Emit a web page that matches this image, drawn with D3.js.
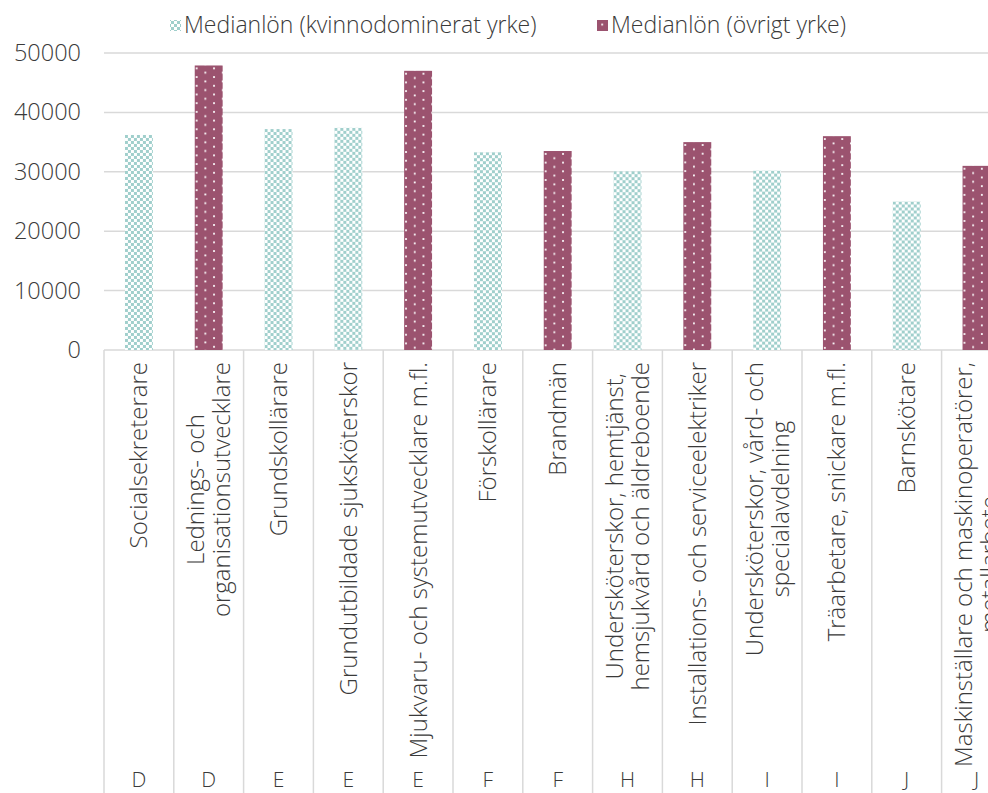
<!DOCTYPE html>
<meta charset="utf-8">
<style>
  body { margin: 0; background: #fff; }
  text { font-family: "Open Sans", "Lato", sans-serif; font-weight: 300; fill: #3a3a3a; }
</style>
<body>
<div id="chart"></div>
<script src="https://cdn.jsdelivr.net/npm/d3@7"></script>
<script>

// yrken, grupp och typ av yrke
var labels = [
  ["Socialsekreterare"],
  ["Lednings- och", "organisationsutvecklare"],
  ["Grundskollärare"],
  ["Grundutbildade sjuksköterskor"],
  ["Mjukvaru- och systemutvecklare m.fl."],
  ["Förskollärare"],
  ["Brandmän"],
  ["Undersköterskor, hemtjänst,", "hemsjukvård och äldreboende"],
  ["Installations- och serviceelektriker"],
  ["Undersköterskor, vård- och", "specialavdelning"],
  ["Träarbetare, snickare m.fl."],
  ["Barnskötare"],
  ["Maskinställare och maskinoperatörer,", "metallarbete"]
];
var groups = ["D", "D", "E", "E", "E", "F", "F", "H", "H", "I", "I", "J", "J"];
var types = ["k", "o", "k", "k", "o", "k", "o", "k", "o", "k", "o", "k", "o"];
var values = [36200, 47900, 37200, 37400, 47000, 33300, 33500, 30100, 35000, 30200, 36000, 25000, 31000];

var seriesNames = ["Medianlön (kvinnodominerat yrke)", "Medianlön (övrigt yrke)"];
var yTicks = [0, 10000, 20000, 30000, 40000, 50000];

var width = 988, height = 793;
var left = 104, top0 = 53, bottom0 = 350;

var svg = d3.select("#chart").append("svg")
    .attr("width", width)
    .attr("height", height);

var teal = "#a0cfcc", plum = "#9b536f", grid = "#d9d9d9";

var defs = svg.append("defs");
var pk = defs.append("pattern")
    .attr("id", "pat-k")
    .attr("patternUnits", "userSpaceOnUse")
    .attr("width", 6).attr("height", 6);
pk.append("rect").attr("width", 6).attr("height", 6).attr("fill", "#fff");
pk.append("rect").attr("width", 3).attr("height", 3).attr("fill", teal);
pk.append("rect").attr("x", 3).attr("y", 3).attr("width", 3).attr("height", 3).attr("fill", teal);

var po = defs.append("pattern")
    .attr("id", "pat-o")
    .attr("patternUnits", "userSpaceOnUse")
    .attr("width", 17.4).attr("height", 8.7);
po.append("rect").attr("width", 17.4).attr("height", 8.7).attr("fill", plum);
po.append("rect").attr("x", 1).attr("y", 2).attr("width", 1.8).attr("height", 1.8).attr("fill", "#fff");
po.append("rect").attr("x", 9.7).attr("y", 6.3).attr("width", 1.8).attr("height", 1.8).attr("fill", "#fff");

var x = d3.scaleBand()
    .domain(d3.range(labels.length))
    .range([left, left + 69.8 * labels.length])
    .padding(0);

var y = d3.scaleLinear()
    .domain([0, 50000])
    .range([bottom0, top0]);

// gridlines
svg.append("g")
  .selectAll("line")
  .data(yTicks)
  .enter().append("line")
    .attr("x1", left).attr("x2", width)
    .attr("y1", function(d) { return y(d); })
    .attr("y2", function(d) { return y(d); })
    .attr("stroke", grid)
    .attr("stroke-width", 1.5);

// y axis
var yAxis = svg.append("g")
    .attr("transform", "translate(" + (left - 23) + ",0)")
    .call(d3.axisLeft(y).tickValues(yTicks).tickSize(0).tickPadding(0).tickFormat(d3.format("d")));
yAxis.select(".domain").remove();
yAxis.selectAll("text")
    .style("font-size", "23.5px")
    .style("font-family", "\"Open Sans\", sans-serif")
    .attr("fill", "#3a3a3a");

// bars
var barW = x.bandwidth() * 0.4;
var bar = svg.append("g")
  .selectAll("g")
  .data(values)
  .enter().append("g")
    .attr("transform", function(d, i) {
      return "translate(" + (x(i) + (x.bandwidth() - barW) / 2) + "," + y(d) + ")";
    });
bar.append("rect")
    .attr("width", barW)
    .attr("height", function(d) { return y(0) - y(d); })
    .attr("fill", function(d, i) { return types[i] == "k" ? "url(#pat-k)" : "url(#pat-o)"; });

// category dividers
svg.append("g")
  .selectAll("line")
  .data(d3.range(labels.length + 1))
  .enter().append("line")
    .attr("x1", function(i) { return left + x.step() * i; })
    .attr("x2", function(i) { return left + x.step() * i; })
    .attr("y1", bottom0).attr("y2", height)
    .attr("stroke", grid)
    .attr("stroke-width", 1.5);

// rotated labels
var lineH = 26;
var lab = svg.append("g")
  .selectAll("g")
  .data(labels)
  .enter().append("g");
lab.each(function(lines, i) {
  var g = d3.select(this);
  var ts = g.selectAll("text")
    .data(lines)
    .enter().append("text")
      .attr("text-anchor", "middle")
      .attr("y", function(d, j) { return (j - (lines.length - 1) / 2) * lineH; })
      .attr("dy", "0.35em")
      .style("font-size", "24px")
      .text(function(d) { return d; });
  var maxLen = d3.max(ts.nodes(), function(n) { return n.getComputedTextLength(); });
  g.attr("transform", "translate(" + (x(i) + x.bandwidth() / 2) + "," + (bottom0 + 12 + maxLen / 2) + ") rotate(-90)");
});

// group letters
svg.append("g")
  .selectAll("text")
  .data(groups)
  .enter().append("text")
    .attr("x", function(d, i) { return x(i) + x.bandwidth() / 2; })
    .attr("y", 780)
    .attr("dy", "0.35em")
    .attr("text-anchor", "middle")
    .style("font-size", "21px")
    .text(function(d) { return d; });

// legend
var leg = svg.append("g");
var legX = [170, 597];
seriesNames.forEach(function(name, i) {
  leg.append("rect")
      .attr("x", legX[i]).attr("y", 20)
      .attr("width", 11).attr("height", 11)
      .attr("fill", i == 0 ? "url(#pat-k)" : "url(#pat-o)");
  leg.append("text")
      .attr("x", legX[i] + 14).attr("y", 25)
      .attr("dy", "0.35em")
      .style("font-size", "23px")
      .text(name);
});

</script>
</body>
